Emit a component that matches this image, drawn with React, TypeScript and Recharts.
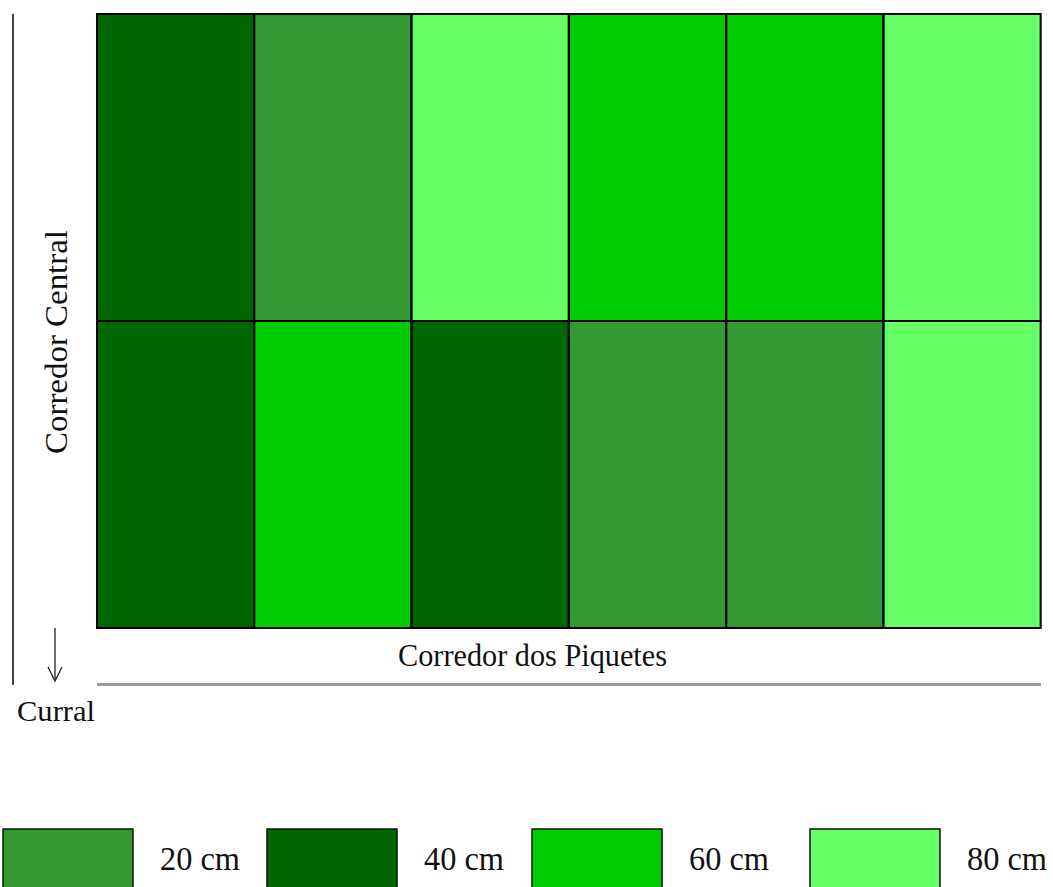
import { BarChart, Bar, XAxis, YAxis, Cell } from "recharts";

// Plot layout: 6 piquetes along the corridor, 2 rows each
const plots = ["P1", "P2", "P3", "P4", "P5", "P6"];
const upperRow = [40, 20, 80, 60, 60, 80]; // grazing height (cm), top row
const lowerRow = [40, 60, 40, 20, 20, 80]; // grazing height (cm), bottom row

const heights = [20, 40, 60, 80];
const heightColors = ["#339933", "#006600", "#00cc00", "#66ff66"];
const legendX = [3, 267, 532, 810];

const colorOf = (h: number) => heightColors[heights.indexOf(h)];

const data = plots.map((p, i) => ({
  plot: p,
  lower: 1,
  upper: 1,
  lowerH: lowerRow[i],
  upperH: upperRow[i],
}));

const W = 1053;
const H = 887;
const serif = "'Liberation Serif', 'Times New Roman', serif";

export default function App() {
  return (
    <div style={{ position: "absolute", left: 0, top: 0, width: W, height: H, background: "#fff", overflow: "hidden" }}>
      <BarChart width={W} height={H} data={data} barCategoryGap={0}
                margin={{ top: 14, right: 12, left: 97, bottom: 259 }}>
        <XAxis dataKey="plot" hide />
        <YAxis hide domain={[0, 2]} />
        <Bar dataKey="lower" stackId="a" isAnimationActive={false}>
          {data.map((d, i) => (
            <Cell key={i} fill={colorOf(d.lowerH)} stroke="#000" strokeWidth={2} />
          ))}
        </Bar>
        <Bar dataKey="upper" stackId="a" isAnimationActive={false}>
          {data.map((d, i) => (
            <Cell key={i} fill={colorOf(d.upperH)} stroke="#000" strokeWidth={2} />
          ))}
        </Bar>
      </BarChart>

      <svg width={W} height={H} style={{ position: "absolute", left: 0, top: 0, pointerEvents: "none" }}>
        {/* central corridor */}
        <line x1={13} y1={14} x2={13} y2={685} stroke="#444" strokeWidth={2} />
        <text x={0} y={0} transform="translate(67 342) rotate(-90)" textAnchor="middle"
              fontFamily={serif} fontSize={31} fill="#111" textLength={224} lengthAdjust="spacingAndGlyphs">
          Corredor  Central
        </text>
        {/* arrow to the corral */}
        <line x1={55} y1={628} x2={55} y2={680} stroke="#222" strokeWidth={1.3} />
        <polyline points="48,667 55,681 62,667" fill="none" stroke="#222" strokeWidth={1.3} />
        <text x={17} y={721} fontFamily={serif} fontSize={30} fill="#111" textLength={78}
              lengthAdjust="spacingAndGlyphs">Curral</text>
        {/* paddock corridor */}
        <text x={398} y={666} fontFamily={serif} fontSize={31} fill="#111" textLength={269}
              lengthAdjust="spacingAndGlyphs">Corredor dos Piquetes</text>
        <line x1={97} y1={684.5} x2={1041} y2={684.5} stroke="#9a9a9a" strokeWidth={3} />

        {/* legend */}
        {heights.map((h, i) => (
          <g key={h}>
            <rect x={legendX[i]} y={829} width={130} height={62} fill={heightColors[i]} stroke="#111" strokeWidth={1.5} />
            <text x={legendX[i] + 157} y={870} fontFamily={serif} fontSize={34} fill="#111"
                  textLength={80} lengthAdjust="spacingAndGlyphs">{h} cm</text>
          </g>
        ))}
      </svg>
    </div>
  );
}
